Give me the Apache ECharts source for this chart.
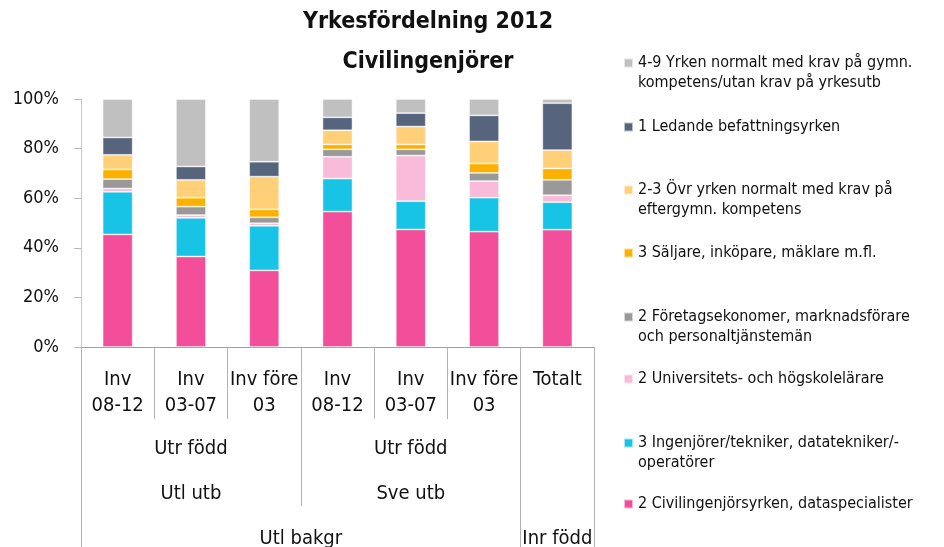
<!DOCTYPE html>
<html>
<head>
<meta charset="utf-8">
<title>Yrkesfördelning 2012 - Civilingenjörer</title>
<script src="https://cdn.jsdelivr.net/npm/echarts@6/dist/echarts.min.js"></script>
<style>
  html, body { margin: 0; padding: 0; background: #fff; }
  #chart { width: 944px; height: 547px; }
</style>
</head>
<body>
<div id="chart"></div>
<script>
// Kategorier (nivå 1) och grupper (nivå 2-3)
const categories = ['Inv\n08-12', 'Inv\n03-07', 'Inv före\n03', 'Inv\n08-12', 'Inv\n03-07', 'Inv före\n03', 'Totalt'];
const groupLabels = ['Utr född\n\nUtl utb', 'Utr född\n\nSve utb', ''];
const groupSpans = [3, 3, 1];
const topLabels = ['Utl bakgr', 'Inr född'];
const topSpans = [6, 1];

// Andelar i procent, nerifrån och upp i stapeln
const civilingenjor = [45.4, 36.5, 30.9, 54.6, 47.4, 46.5, 47.3];
const ingenjorer = [17.2, 15.6, 18.0, 13.3, 11.4, 13.7, 11.1];
const universitet = [1.3, 1.1, 1.0, 8.8, 18.4, 6.7, 2.8];
const foretagsekonomer = [3.8, 3.4, 2.4, 3.0, 2.5, 3.3, 6.2];
const saljare = [3.9, 3.6, 3.2, 2.0, 2.0, 3.8, 4.6];
const ovrigaYrken = [5.9, 7.2, 13.2, 5.7, 7.2, 8.9, 7.4];
const ledande = [7.0, 5.4, 6.0, 5.2, 5.4, 10.5, 18.9];
const gymnYrken = [15.5, 27.2, 25.3, 7.4, 5.7, 6.6, 1.7];

const seriesNames = [
  '2 Civilingenjörsyrken, dataspecialister',
  '3 Ingenjörer/tekniker, datatekniker/-\noperatörer',
  '2 Universitets- och högskolelärare',
  '2 Företagsekonomer, marknadsförare\noch personaltjänstemän',
  '3 Säljare, inköpare, mäklare m.fl.',
  '2-3 Övr yrken normalt med krav på\neftergymn. kompetens',
  '1 Ledande befattningsyrken',
  '4-9 Yrken normalt med krav på gymn.\nkompetens/utan krav på yrkesutb'
];
const seriesData = [civilingenjor, ingenjorer, universitet, foretagsekonomer, saljare, ovrigaYrken, ledande, gymnYrken];
const seriesColors = ['#F24E9A', '#18C4E5', '#F8BBD9', '#999999', '#FCB100', '#FFD078', '#56657D', '#C0C0C0'];

const FONT = "'DejaVu Sans Condensed', 'DejaVu Sans', sans-serif";
const TEXT_COLOR = '#111';
const SEP_COLOR = '#b3b3b3';

// gränser och mittpunkter för grupperade axlar
function spanTicks(spans) {
  const ticks = [0];
  let acc = 0;
  spans.forEach(s => { acc += s; ticks.push(acc); });
  return ticks;
}
function spanMids(spans) {
  const mids = [];
  let acc = 0;
  spans.forEach(s => { mids.push(acc + s / 2); acc += s; });
  return mids;
}
function labelLookup(spans, labels) {
  const map = {};
  spanMids(spans).forEach((m, i) => { map[String(m)] = labels[i]; });
  return value => map[String(value)] || '';
}

const chart = echarts.init(document.getElementById('chart'));

// en legend per serie, uppifrån och ned i omvänd ordning.
// Ikonen är en ruta överst i en hög (osynlig) box så att den hamnar i höjd med första raden.
const legendCenters = [63, 127, 190, 253, 317, 379, 443, 504];
const ICON_TOP = 'path://M0,0L9,0L9,9L0,9Z';
const ICON_TOP_TALL = 'path://M0,0L9,0L9,9L0,9ZM0,28.99L0.01,28.99L0.01,29L0,29Z';
const legends = seriesNames.slice().reverse().map((name, i) => {
  const twoLines = name.indexOf('\n') >= 0;
  return {
    left: 623,
    top: legendCenters[i] - 10,
    padding: 0,
    itemWidth: 9,
    itemHeight: twoLines ? 29 : 9,
    icon: twoLines ? ICON_TOP_TALL : ICON_TOP,
    data: [name],
    textStyle: {
      fontFamily: FONT,
      fontSize: 16,
      color: TEXT_COLOR,
      lineHeight: 20
    }
  };
});

const option = {
  animation: false,
  title: {
    text: 'Yrkesfördelning 2012\nCivilingenjörer',
    left: 428,
    top: 2,
    padding: 0,
    textAlign: 'center',
    textStyle: {
      fontFamily: FONT,
      fontSize: 23,
      fontWeight: 'bold',
      color: TEXT_COLOR,
      lineHeight: 40
    }
  },
  tooltip: {
    trigger: 'axis',
    axisPointer: { type: 'shadow' }
  },
  legend: legends,
  grid: {
    left: 81,
    right: 350,
    top: 99,
    bottom: 200,
    outerBoundsMode: 'none'
  },
  xAxis: [
    {
      type: 'category',
      data: categories,
      axisLine: { lineStyle: { color: '#a0a0a0', width: 1 } },
      axisTick: { show: true, interval: 0, length: 72, lineStyle: { color: SEP_COLOR } },
      axisLabel: {
        interval: 0,
        margin: 20,
        fontFamily: FONT,
        fontSize: 20,
        lineHeight: 26,
        color: TEXT_COLOR
      }
    },
    {
      type: 'value',
      position: 'bottom',
      offset: 72,
      min: 0,
      max: categories.length,
      axisLine: { show: false },
      splitLine: { show: false },
      axisTick: { show: true, length: 87, customValues: spanTicks(groupSpans), lineStyle: { color: SEP_COLOR } },
      axisLabel: {
        customValues: spanMids(groupSpans),
        formatter: labelLookup(groupSpans, groupLabels),
        margin: 19,
        fontFamily: FONT,
        fontSize: 20,
        lineHeight: 22.5,
        color: TEXT_COLOR
      }
    },
    {
      type: 'value',
      position: 'bottom',
      offset: 159,
      min: 0,
      max: categories.length,
      axisLine: { show: false },
      splitLine: { show: false },
      axisTick: { show: true, length: 50, customValues: spanTicks(topSpans), lineStyle: { color: SEP_COLOR } },
      axisLabel: {
        customValues: spanMids(topSpans),
        formatter: labelLookup(topSpans, topLabels),
        margin: 23,
        fontFamily: FONT,
        fontSize: 20,
        lineHeight: 20,
        color: TEXT_COLOR
      }
    }
  ],
  yAxis: {
    type: 'value',
    min: 0,
    max: 100,
    interval: 20,
    axisLine: { show: true, lineStyle: { color: '#c8c8c8' } },
    axisTick: { show: true, length: 7, lineStyle: { color: '#b8b8b8' } },
    splitLine: { show: false },
    axisLabel: {
      formatter: '{value}%',
      margin: 22,
      padding: [5, 0, 0, 0],
      fontFamily: FONT,
      fontSize: 18,
      color: TEXT_COLOR
    }
  },
  series: seriesNames.map((name, i) => ({
    name: name,
    type: 'bar',
    stack: 'total',
    xAxisIndex: 0,
    barWidth: 30,
    data: seriesData[i],
    itemStyle: {
      color: seriesColors[i],
      borderColor: 'rgba(255,255,255,0.6)',
      borderWidth: 0.8
    }
  }))
};

chart.setOption(option);

window.addEventListener('resize', () => {
  chart.resize();
});
</script>
</body>
</html>
